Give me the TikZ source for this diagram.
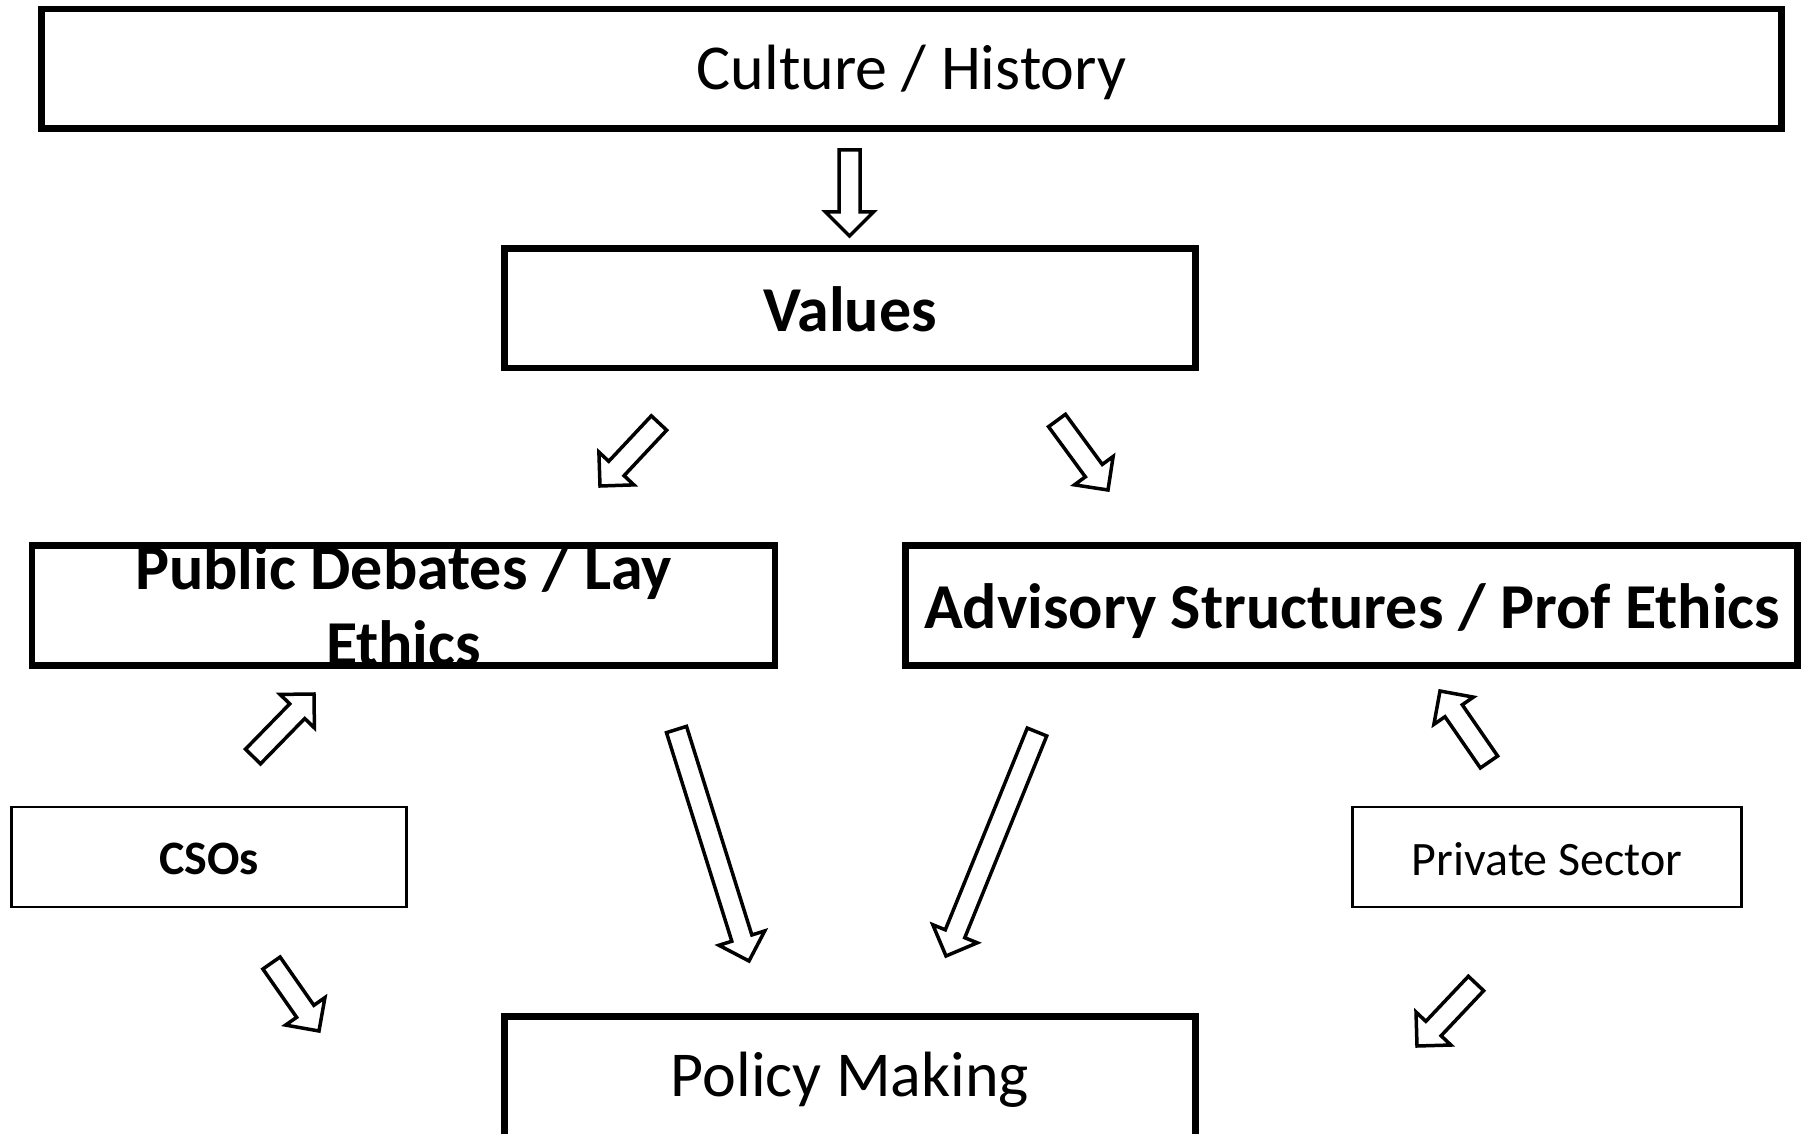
\documentclass[tikz,border=0pt]{standalone}
\usepackage{fontspec}
\setmainfont{Carlito}
\usetikzlibrary{calc}
\def\arsw{5.25pt}
\def\arhw{12pt}
\def\arhl{12pt}
\newcommand\blockarrow[2]{%
  \coordinate (hb) at ($(#2)!\arhl!(#1)$);
  \draw[arrowline] ($(#1)!\arsw!90:(#2)$) -- ($(hb)!\arsw!90:(#2)$) -- ($(hb)!\arhw!90:(#2)$) -- (#2)
    -- ($(hb)!\arhw!-90:(#2)$) -- ($(hb)!\arsw!-90:(#2)$) -- ($(#1)!\arsw!-90:(#2)$) -- cycle;}
\begin{document}
\begin{tikzpicture}[x=0.5pt,y=-0.5pt,
  bigbox/.style={draw, line width=3.4pt, inner sep=0pt},
  smallbox/.style={draw, line width=1.4pt, inner sep=0pt},
  lbl/.style={anchor=base, inner sep=0pt},
  bigtxt/.style={font=\fontsize{32}{38}\selectfont},
  bigbold/.style={font=\bfseries\fontsize{32}{38}\selectfont},
  smalltxt/.style={font=\fontsize{24}{29}\selectfont},
  smallbold/.style={font=\bfseries\fontsize{24}{29}\selectfont},
  arrowline/.style={draw=black, fill=white, line width=1.75pt, line join=miter}]
\useasboundingbox (0,0) rectangle (1806,1134);
\clip (0,0) rectangle (1806,1134);
\fill[white] (0,0) rectangle (1806,1134);
% texts
\node[lbl, bigtxt] (culturetext) at (911.5,90) {Culture / History};
\node[lbl, bigbold] (valuestext) at (850,332) {Values};
\node[bigbold, align=center, inner sep=0pt] (pdtext) at (403.5,605) {Public Debates / Lay\\Ethics};
\node[lbl, bigbold] (advtext) at (1352,628) {Advisory Structures / Prof Ethics};
\node[lbl, smallbold] (csostext) at (209,874) {CSOs};
\node[lbl, smalltxt] (privtext) at (1547,875) {Private Sector};
\node[lbl, bigtxt] (policytext) at (850,1096) {Policy Making};
% boxes
\node[bigbox, minimum width=870pt, minimum height=59.75pt] (culture) at (911.5,68.75) {};
\node[bigbox, minimum width=345.5pt, minimum height=59.75pt] (values) at (850,308.25) {};
\node[bigbox, minimum width=371.5pt, minimum height=60pt] (public) at (403.5,605.5) {};
\node[bigbox, minimum width=446pt, minimum height=60pt] (advisory) at (1351.5,605.5) {};
\node[smallbox, minimum width=197.5pt, minimum height=50pt] (csos) at (209,857) {};
\node[smallbox, minimum width=194.5pt, minimum height=50pt] (private) at (1547,857) {};
\node[bigbox, minimum width=345.5pt, minimum height=60.5pt] (policy) at (850,1077) {};
% arrow end points
\coordinate (a1s) at (849.5,150);  \coordinate (a1e) at (849.5,236);
\coordinate (a2s) at (659,423);    \coordinate (a2e) at (600,486);
\coordinate (a3s) at (1057,420.5); \coordinate (a3e) at (1108,490);
\coordinate (a4s) at (253,756.5);  \coordinate (a4e) at (314,694);
\coordinate (a5s) at (676.5,729.5);\coordinate (a5e) at (749,961);
\coordinate (a6s) at (1037,732);   \coordinate (a6e) at (946,956);
\coordinate (a7s) at (1489,762);   \coordinate (a7e) at (1440,691);
\coordinate (a8s) at (271.5,963);  \coordinate (a8e) at (319,1031);
\coordinate (a9s) at (1476,983.5); \coordinate (a9e) at (1417,1046);
\blockarrow{a1s}{a1e}
\blockarrow{a2s}{a2e}
\blockarrow{a3s}{a3e}
\blockarrow{a4s}{a4e}
\blockarrow{a5s}{a5e}
\blockarrow{a6s}{a6e}
\blockarrow{a7s}{a7e}
\blockarrow{a8s}{a8e}
\blockarrow{a9s}{a9e}
\end{tikzpicture}
\end{document}
